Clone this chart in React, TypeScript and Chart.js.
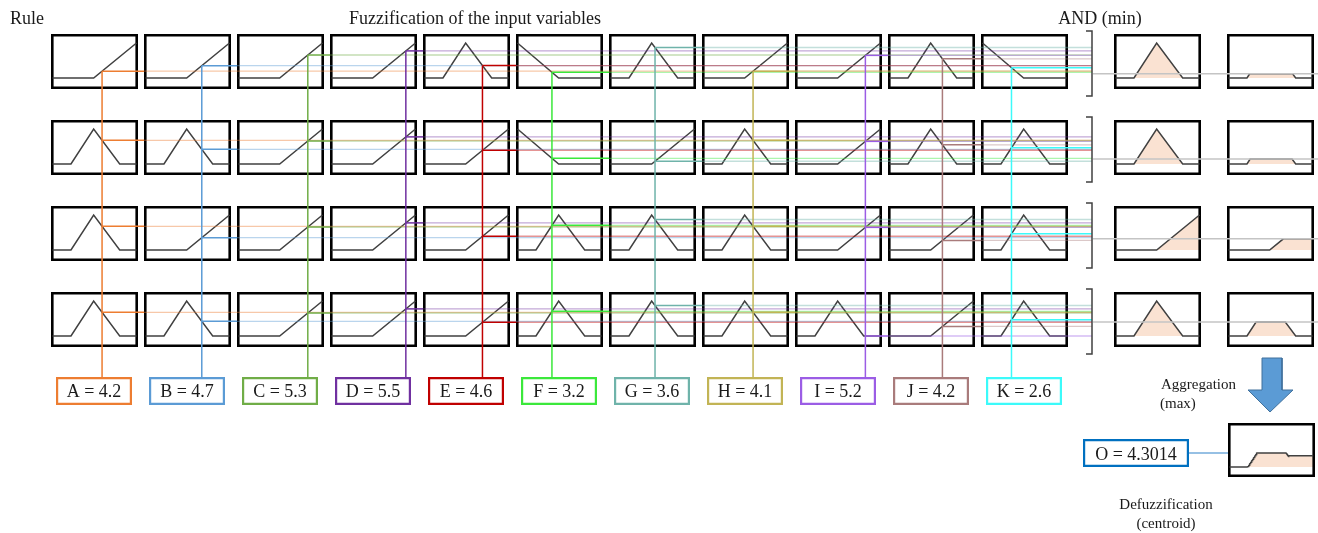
import { useEffect, useRef } from 'react';
import { Chart, registerables } from 'chart.js';

Chart.register(...registerables);

const W = 1318;
const H = 533;

// ---------- data ----------
const variables = ['A', 'B', 'C', 'D', 'E', 'F', 'G', 'H', 'I', 'J', 'K'];
const inputValues = ['4.2', '4.7', '5.3', '5.5', '4.6', '3.2', '3.6', '4.1', '5.2', '4.2', '2.6'];
// where each crisp input sits inside its universe of discourse (fraction of the box width)
const inputPosition = [0.59, 0.67, 0.825, 0.885, 0.69, 0.41, 0.53, 0.59, 0.82, 0.63, 0.345];
const varColors = ['#ED7D31', '#5B9BD5', '#70AD47', '#7030A0', '#C00000', '#3BE83B', '#6FB3AA', '#C2B455', '#9B5DE5', '#A97B7B', '#3CFAFA'];
// membership term used by each rule (row) for each variable (column)
const ruleTerms = [
  ['up', 'up', 'up', 'up', 'tri', 'down', 'tri', 'up', 'up', 'tri', 'down'],
  ['tri', 'tri', 'up', 'up', 'up', 'down', 'up', 'tri', 'up', 'tri', 'tri'],
  ['tri', 'up', 'up', 'up', 'up', 'tri', 'tri', 'tri', 'up', 'up', 'tri'],
  ['tri', 'tri', 'up', 'up', 'up', 'tri', 'tri', 'tri', 'tri', 'up', 'tri'],
];
const outputTerms = ['tri', 'tri', 'up', 'tri'];
// firing strength of each rule (AND = min)
const andDegrees = [0.12, 0.14, 0.32, 0.4];
const outputValue = '4.3014';

const termShapes: Record<string, number[][]> = {
  up: [[0, 0], [0.49, 0], [1, 1]],
  tri: [[0, 0], [0.22, 0], [0.49, 1], [0.8, 0], [1, 0]],
  down: [[0, 1], [0.49, 0], [1, 0]],
};

// ---------- layout ----------
const COL0 = 51;
const COL_GAP = 93;
const BOX_W = 87;
const ROW0 = 34;
const ROW_GAP = 86;
const BOX_H = 55;
const BASE_OFF = 44;
const PEAK_OFF = 9;
const AND_LEFT = 1114;
const OUT_LEFT = 1227;
const BRACKET_X = 1092;
const LABEL_TOP = 377;
const LABEL_H = 28;
const LABEL_W = 76;
const AGG_LEFT = 1228;
const AGG_TOP = 423;
const AGG_H = 54;
const O_BOX = { l: 1083, t: 439, r: 1189, b: 467 };
const PEACH = '#FAE2D2';
const SHAPE_COLOR = '#404040';

const colLeft = (i: number) => COL0 + COL_GAP * i;
const rowTop = (r: number) => ROW0 + ROW_GAP * r;
const xAt = (left: number, f: number) => left + 1.5 + f * (BOX_W - 3);

function evalShape(pts: number[][], f: number) {
  for (let i = 0; i < pts.length - 1; i++) {
    const [x0, y0] = pts[i];
    const [x1, y1] = pts[i + 1];
    if (f >= x0 && f <= x1) return x1 === x0 ? y1 : y0 + ((f - x0) / (x1 - x0)) * (y1 - y0);
  }
  return pts[pts.length - 1][1];
}

function clipShape(pts: number[][], d: number) {
  const out: number[][] = [];
  for (let i = 0; i < pts.length; i++) {
    const [x, y] = pts[i];
    if (i > 0) {
      const [px, py] = pts[i - 1];
      if ((py - d) * (y - d) < 0) {
        const t = (d - py) / (y - py);
        out.push([px + t * (x - px), d]);
      }
    }
    out.push([x, Math.min(y, d)]);
  }
  return out;
}

function rgba(hex: string, a: number) {
  const n = parseInt(hex.slice(1), 16);
  return `rgba(${(n >> 16) & 255},${(n >> 8) & 255},${n & 255},${a})`;
}

type P = { x: number; y: number };

function buildDatasets() {
  const ds: any[] = [];
  const line = (pts: P[], color: string, width: number, extra: any = {}) =>
    ds.push({
      data: pts,
      showLine: true,
      borderColor: color,
      borderWidth: width,
      pointRadius: 0,
      pointHoverRadius: 0,
      fill: false,
      tension: 0,
      borderCapStyle: 'butt',
      borderJoinStyle: 'miter',
      ...extra,
    });
  const area = (pts: P[], base: number, color: string) =>
    ds.push({
      data: pts,
      showLine: true,
      borderColor: 'rgba(0,0,0,0)',
      borderWidth: 0,
      pointRadius: 0,
      pointHoverRadius: 0,
      tension: 0,
      backgroundColor: color,
      fill: { value: base },
    });
  const rect = (l: number, t: number, r: number, b: number, color: string, width: number) => {
    const h = width / 2;
    line(
      [
        { x: l + h, y: t + h },
        { x: r - h, y: t + h },
        { x: r - h, y: b - h },
        { x: l + h, y: b - h },
        { x: l + h, y: t + h },
      ],
      color,
      width,
      { borderCapStyle: 'square' }
    );
  };
  const shapePts = (left: number, top: number, pts: number[][]) =>
    pts.map(([f, m]) => ({ x: xAt(left, f), y: top + BASE_OFF - m * (BASE_OFF - PEAK_OFF) }));

  // fills (AND and output columns)
  outputTerms.forEach((term, r) => {
    const top = rowTop(r);
    area(shapePts(AND_LEFT, top, termShapes[term]), top + BASE_OFF, PEACH);
    area(shapePts(OUT_LEFT, top, clipShape(termShapes[term], andDegrees[r])), top + BASE_OFF, PEACH);
  });
  // aggregated output (max of clipped consequents)
  const aggPts: number[][] = [];
  const N = 300;
  for (let i = 0; i <= N; i++) {
    const f = i / N;
    let m = 0;
    outputTerms.forEach((term, r) => {
      m = Math.max(m, evalShape(clipShape(termShapes[term], andDegrees[r]), f));
    });
    aggPts.push([f, m]);
  }
  const aggBase = AGG_TOP + BASE_OFF;
  const aggPoints = aggPts.map(([f, m]) => ({ x: xAt(AGG_LEFT, f), y: aggBase - m * (BASE_OFF - PEAK_OFF) }));
  area(aggPoints, aggBase, PEACH);

  // boxes
  for (let r = 0; r < ruleTerms.length; r++) {
    const top = rowTop(r);
    for (let v = 0; v < variables.length; v++) rect(colLeft(v), top, colLeft(v) + BOX_W, top + BOX_H, '#000', 2.6);
    rect(AND_LEFT, top, AND_LEFT + BOX_W, top + BOX_H, '#000', 2.6);
    rect(OUT_LEFT, top, OUT_LEFT + BOX_W, top + BOX_H, '#000', 2.6);
  }
  rect(AGG_LEFT, AGG_TOP, AGG_LEFT + BOX_W, AGG_TOP + AGG_H, '#000', 2.6);

  // membership shapes
  ruleTerms.forEach((row, r) => {
    const top = rowTop(r);
    row.forEach((term, v) => line(shapePts(colLeft(v), top, termShapes[term]), SHAPE_COLOR, 1.5));
    line(shapePts(AND_LEFT, top, termShapes[outputTerms[r]]), SHAPE_COLOR, 1.5);
    line(shapePts(OUT_LEFT, top, clipShape(termShapes[outputTerms[r]], andDegrees[r])), SHAPE_COLOR, 1.5);
  });
  line(aggPoints, SHAPE_COLOR, 1.5);

  // membership degree lines
  const degY = (r: number, v: number) => {
    const top = rowTop(r);
    const m = evalShape(termShapes[ruleTerms[r][v]], inputPosition[v]);
    return top + BASE_OFF - m * (BASE_OFF - PEAK_OFF);
  };
  // pale continuations first
  ruleTerms.forEach((_, r) => {
    variables.forEach((_v, v) => {
      if (v < variables.length - 1) {
        const y = degY(r, v);
        line([{ x: colLeft(v + 1), y }, { x: BRACKET_X, y }], rgba(varColors[v], 0.42), 1.3);
      }
    });
  });
  ruleTerms.forEach((_, r) => {
    variables.forEach((_v, v) => {
      const y = degY(r, v);
      const xv = xAt(colLeft(v), inputPosition[v]);
      const end = v < variables.length - 1 ? colLeft(v + 1) : BRACKET_X;
      line([{ x: xv, y }, { x: end, y }], varColors[v], 1.5);
    });
  });
  variables.forEach((_v, v) => {
    const xv = xAt(colLeft(v), inputPosition[v]);
    line([{ x: xv, y: degY(0, v) }, { x: xv, y: LABEL_TOP }], varColors[v], 1.5);
  });

  // AND result lines
  andDegrees.forEach((d, r) => {
    const y = rowTop(r) + BASE_OFF - d * (BASE_OFF - PEAK_OFF);
    line([{ x: BRACKET_X + 1, y }, { x: W, y }], '#C4C4C4', 1.5);
  });

  // brackets
  ruleTerms.forEach((_, r) => {
    const top = rowTop(r);
    line(
      [
        { x: BRACKET_X - 6, y: top - 3 },
        { x: BRACKET_X, y: top - 3 },
        { x: BRACKET_X, y: top + BOX_H + 7 },
        { x: BRACKET_X - 6, y: top + BOX_H + 7 },
      ],
      SHAPE_COLOR,
      1.5
    );
  });

  // input label boxes
  variables.forEach((_v, v) => {
    const l = colLeft(v) + 5;
    rect(l, LABEL_TOP, l + LABEL_W, LABEL_TOP + LABEL_H, varColors[v], 2.2);
  });
  // output box and connector
  rect(O_BOX.l, O_BOX.t, O_BOX.r, O_BOX.b, '#0070C0', 2.2);
  line([{ x: O_BOX.r, y: 453 }, { x: AGG_LEFT, y: 453 }], 'rgba(91,155,213,0.85)', 1.5);

  // aggregation arrow
  area([{ x: 1262, y: 358 }, { x: 1282, y: 358 }], 390, '#5B9BD5');
  area([{ x: 1248, y: 390 }, { x: 1270, y: 412 }, { x: 1293, y: 390 }], 390, '#5B9BD5');
  line(
    [
      { x: 1262, y: 358 },
      { x: 1282, y: 358 },
      { x: 1282, y: 390 },
      { x: 1293, y: 390 },
      { x: 1270, y: 412 },
      { x: 1248, y: 390 },
      { x: 1262, y: 390 },
      { x: 1262, y: 358 },
    ],
    '#41719C',
    1
  );

  return ds.reverse();
}

const texts = [
  { t: 'Rule', x: 10, y: 24, align: 'left', size: 18 },
  { t: 'Fuzzification of the input variables', x: 475, y: 24, align: 'center', size: 18 },
  { t: 'AND (min)', x: 1100, y: 24, align: 'center', size: 18 },
  { t: 'Aggregation', x: 1161, y: 389, align: 'left', size: 15 },
  { t: '(max)', x: 1160, y: 408, align: 'left', size: 15 },
  { t: 'Defuzzification', x: 1166, y: 509, align: 'center', size: 15 },
  { t: '(centroid)', x: 1166, y: 528, align: 'center', size: 15 },
];

const textPlugin = {
  id: 'diagramText',
  afterDatasetsDraw(chart: any) {
    const ctx = chart.ctx as CanvasRenderingContext2D;
    const xs = chart.scales.x;
    const ys = chart.scales.y;
    ctx.save();
    ctx.fillStyle = '#1a1a1a';
    ctx.textBaseline = 'alphabetic';
    const draw = (t: string, x: number, y: number, align: string, size: number) => {
      ctx.font = `${size}px "Liberation Serif", "DejaVu Serif", serif`;
      ctx.textAlign = align as CanvasTextAlign;
      ctx.fillText(t, xs.getPixelForValue(x), ys.getPixelForValue(y));
    };
    texts.forEach((o) => draw(o.t, o.x, o.y, o.align, o.size));
    variables.forEach((name, v) => {
      const l = colLeft(v) + 5;
      draw(`${name} = ${inputValues[v]}`, l + LABEL_W / 2, LABEL_TOP + 20, 'center', 18);
    });
    draw(`O = ${outputValue}`, (O_BOX.l + O_BOX.r) / 2, O_BOX.t + 21, 'center', 18);
    ctx.restore();
  },
};

export default function App() {
  const ref = useRef<HTMLCanvasElement | null>(null);
  useEffect(() => {
    document.body.style.margin = '0';
    const canvas = ref.current;
    if (!canvas) return;
    const chart = new Chart(canvas, {
      type: 'scatter',
      data: { datasets: buildDatasets() },
      options: {
        animation: false,
        responsive: false,
        maintainAspectRatio: false,
        events: [],
        layout: { padding: 0 },
        plugins: { legend: { display: false }, tooltip: { enabled: false } },
        scales: {
          x: { type: 'linear', min: 0, max: W, display: false },
          y: { type: 'linear', min: 0, max: H, reverse: true, display: false },
        },
      } as any,
      plugins: [textPlugin],
    });
    return () => chart.destroy();
  }, []);
  return (
    <div style={{ width: W, height: H, background: '#fff' }}>
      <canvas ref={ref} width={W} height={H} style={{ display: 'block' }} />
    </div>
  );
}
